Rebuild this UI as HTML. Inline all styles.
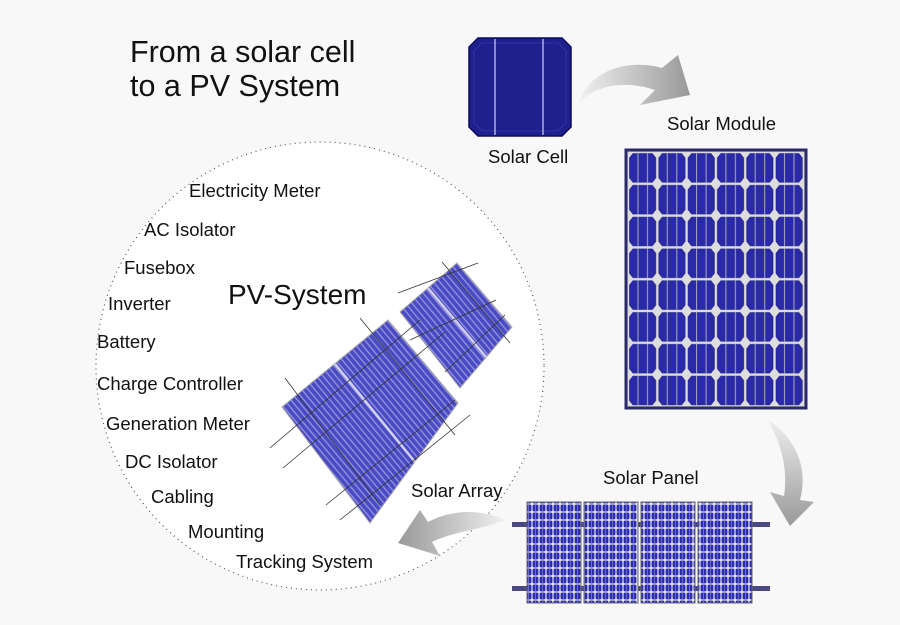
<!DOCTYPE html>
<html><head><meta charset="utf-8"><style>
html,body{margin:0;padding:0;background:#f8f8f8;}
svg{display:block;}
text{font-family:"Liberation Sans",sans-serif;fill:#111;}
</style></head><body>
<svg width="900" height="625" viewBox="0 0 900 625" xmlns="http://www.w3.org/2000/svg">
<defs>
<linearGradient id="ag" x1="0" y1="0" x2="1" y2="0"><stop offset="0" stop-color="#f0f0f0"/><stop offset="1" stop-color="#999"/></linearGradient>
<linearGradient id="ag2" x1="0" y1="0" x2="0" y2="1"><stop offset="0" stop-color="#eee"/><stop offset="1" stop-color="#999"/></linearGradient>
<linearGradient id="ag3" x1="1" y1="0" x2="0" y2="0"><stop offset="0" stop-color="#f0f0f0"/><stop offset="1" stop-color="#999"/></linearGradient>
<pattern id="mod" x="628" y="152" width="29.3" height="31.8" patternUnits="userSpaceOnUse">
<rect width="29.3" height="31.8" fill="#ddd"/>
<polygon points="5,1.5 24.3,1.5 27.8,6 27.8,25.8 24.3,30.3 5,30.3 1.5,25.8 1.5,6" fill="#2a2aa8" stroke="#181880" stroke-width="0.6"/>
<line x1="10" y1="1" x2="10" y2="31" stroke="#aab" stroke-width="1"/>
<line x1="19.5" y1="1" x2="19.5" y2="31" stroke="#aab" stroke-width="1"/>
</pattern>
<pattern id="pan" x="0" y="0" width="7" height="8" patternUnits="userSpaceOnUse">
<rect width="7" height="8" fill="#e0e0ee"/>
<rect x="0.6" y="0.6" width="5.8" height="6.8" rx="1.5" fill="#2c2cb0"/>
<line x1="3.5" y1="0" x2="3.5" y2="8" stroke="#8888cc" stroke-width="0.7"/>
</pattern>
<pattern id="arr" width="5" height="5" patternUnits="userSpaceOnUse" patternTransform="rotate(-40)">
<rect width="5" height="5" fill="#4a4ac4"/>
<rect x="0" y="0" width="1.4" height="5" fill="#9090dc"/>
</pattern>
</defs>

<circle cx="320" cy="366" r="224" fill="#fff" stroke="#555" stroke-width="1.2" stroke-dasharray="1 4"/>

<text x="130" y="62" font-size="30.5">From a solar cell</text>
<text x="130" y="96" font-size="30.5">to a PV System</text>

<!-- Solar cell -->
<polygon points="478,38 562,38 571,47 571,127 562,136 478,136 469,127 469,47" fill="#1f1f8e" stroke="#0a0a60" stroke-width="1.5"/>
<polygon points="482,43 558,43 566,51 566,123 558,131 482,131 474,123 474,51" fill="none" stroke="#3a3aa8" stroke-width="0.8"/>
<line x1="495" y1="39" x2="495" y2="135" stroke="#d0d0ee" stroke-width="1.2"/>
<line x1="543" y1="39" x2="543" y2="135" stroke="#d0d0ee" stroke-width="1.2"/>
<text x="488" y="163" font-size="18.5">Solar Cell</text>

<!-- arrow 1 -->
<path d="M579,103 C588,72 625,58 662,68 L678,55 L690,95 L640,105 L655,90 C625,80 595,85 579,103 Z" fill="url(#ag)"/>

<text x="667" y="130" font-size="18.5">Solar Module</text>
<rect x="626" y="150" width="180" height="258" fill="#ccc" stroke="#2a2a6a" stroke-width="3"/>
<rect x="628" y="152" width="176" height="254" fill="url(#mod)"/>

<!-- arrow 2 -->
<path d="M768,420 C798,440 808,470 800,500 L814,502 L790,526 L770,492 L784,496 C788,470 782,445 768,420 Z" fill="url(#ag2)"/>

<text x="603" y="484" font-size="18.5">Solar Panel</text>
<rect x="512" y="522" width="258" height="5" fill="#4a4a80"/>
<rect x="512" y="586" width="258" height="5" fill="#4a4a80"/>
<g stroke="#666" stroke-width="1">
<rect x="527" y="502" width="54" height="101" fill="url(#pan)"/>
<rect x="584" y="502" width="54" height="101" fill="url(#pan)"/>
<rect x="641" y="502" width="54" height="101" fill="url(#pan)"/>
<rect x="698" y="502" width="54" height="101" fill="url(#pan)"/>
</g>

<!-- arrow 3 -->
<path d="M505,520 C480,508 450,510 428,522 L420,510 L398,543 L440,556 L432,542 C452,532 480,530 505,520 Z" fill="url(#ag3)"/>
<text x="411" y="497" font-size="18.5">Solar Array</text>

<!-- Array -->
<polygon points="282,407 388,320 458,403 370,523" fill="url(#arr)" stroke="#aaa" stroke-width="1"/>
<polygon points="400,312 457,263 512,327 460,388" fill="url(#arr)" stroke="#aaa" stroke-width="1"/>
<g stroke="#d0d0ee" stroke-width="2.5">
<line x1="335" y1="364" x2="415" y2="462"/>
<line x1="428" y1="288" x2="486" y2="357"/>
</g>
<g stroke="#333" stroke-width="0.8">
<line x1="285" y1="378" x2="380" y2="505"/>
<line x1="360" y1="318" x2="455" y2="435"/>
<line x1="270" y1="448" x2="420" y2="320"/>
<line x1="283" y1="468" x2="445" y2="332"/>
<line x1="326" y1="505" x2="455" y2="400"/>
<line x1="340" y1="520" x2="470" y2="415"/>
<line x1="442" y1="262" x2="510" y2="343"/>
<line x1="398" y1="293" x2="478" y2="263"/>
<line x1="410" y1="340" x2="496" y2="300"/>
<line x1="445" y1="372" x2="505" y2="315"/>
</g>

<text x="228" y="304" font-size="28">PV-System</text>
<g font-size="18.5">
<text x="189" y="197">Electricity Meter</text>
<text x="144" y="236">AC Isolator</text>
<text x="124" y="274">Fusebox</text>
<text x="108" y="310">Inverter</text>
<text x="97" y="348">Battery</text>
<text x="97" y="390">Charge Controller</text>
<text x="106" y="430">Generation Meter</text>
<text x="125" y="468">DC Isolator</text>
<text x="151" y="503">Cabling</text>
<text x="188" y="538">Mounting</text>
<text x="236" y="568">Tracking System</text>
</g>
</svg>
</body></html>
